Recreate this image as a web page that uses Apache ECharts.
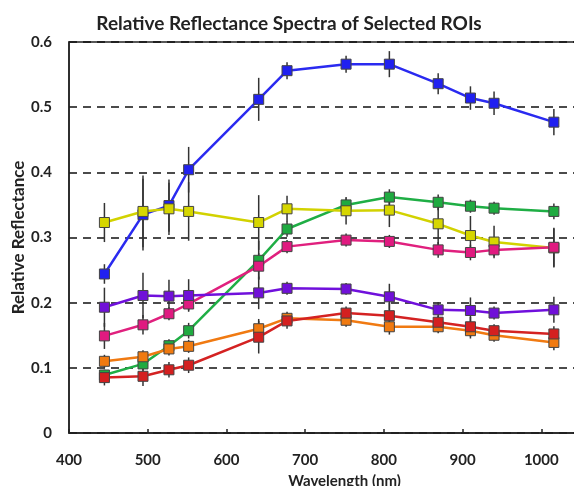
<!DOCTYPE html>
<html lang="en">
<head>
  <meta charset="UTF-8">
  <title>Relative Reflectance Spectra</title>
  <script src="https://cdn.jsdelivr.net/npm/echarts@6/dist/echarts.min.js"></script>
  <style>
    html, body { margin: 0; padding: 0; background: #fff; }
    #chart { width: 574px; height: 486px; }
  </style>
</head>
<body>
  <div id="chart"></div>
  <script>
    // wavelengths (nm) shared by every ROI
    var wavelengths = [445, 494, 527, 552, 641, 677, 752, 807, 869, 910, 940, 1016]

    var blue = [0.244, 0.335, 0.349, 0.404, 0.512, 0.556, 0.566, 0.566, 0.536, 0.514, 0.506, 0.477]
    var blueErr = [0.015, 0.055, 0.04, 0.035, 0.033, 0.013, 0.013, 0.02, 0.016, 0.018, 0.018, 0.02]
    var yellow = [0.323, 0.340, 0.344, 0.340, 0.323, 0.344, 0.341, 0.342, 0.321, 0.303, 0.293, 0.284]
    var yellowErr = [0.03, 0.055, 0.04, 0.045, 0.042, 0.02, 0.021, 0.026, 0.04, 0.03, 0.025, 0.03]
    var green = [0.089, 0.106, 0.134, 0.157, 0.265, 0.313, 0.350, 0.362, 0.354, 0.348, 0.345, 0.340]
    var greenErr = [0.008, 0.01, 0.01, 0.012, 0.03, 0.012, 0.01, 0.012, 0.012, 0.01, 0.01, 0.012]
    var pink = [0.149, 0.166, 0.183, 0.198, 0.256, 0.286, 0.296, 0.294, 0.281, 0.277, 0.281, 0.285]
    var pinkErr = [0.02, 0.015, 0.01, 0.01, 0.02, 0.01, 0.01, 0.01, 0.012, 0.012, 0.01, 0.03]
    var purple = [0.193, 0.211, 0.210, 0.211, 0.215, 0.222, 0.221, 0.209, 0.189, 0.188, 0.184, 0.189]
    var purpleErr = [0.03, 0.035, 0.025, 0.025, 0.025, 0.01, 0.009, 0.02, 0.012, 0.02, 0.01, 0.02]
    var orange = [0.110, 0.117, 0.129, 0.133, 0.160, 0.176, 0.173, 0.163, 0.163, 0.157, 0.150, 0.139]
    var orangeErr = [0.01, 0.01, 0.01, 0.01, 0.015, 0.01, 0.01, 0.012, 0.01, 0.012, 0.01, 0.012]
    var red = [0.085, 0.087, 0.097, 0.104, 0.147, 0.172, 0.184, 0.180, 0.170, 0.163, 0.157, 0.152]
    var redErr = [0.012, 0.015, 0.012, 0.012, 0.025, 0.012, 0.01, 0.02, 0.01, 0.015, 0.01, 0.012]

    // drawn bottom to top
    var rois = [
      { values: blue, err: blueErr, line: '#2a2af0', fill: '#2020f0' },
      { values: green, err: greenErr, line: '#1fae45', fill: '#1faa40' },
      { values: yellow, err: yellowErr, line: '#d2d200', fill: '#d6d600' },
      { values: pink, err: pinkErr, line: '#e0207e', fill: '#e01a80' },
      { values: purple, err: purpleErr, line: '#7010dc', fill: '#7010d8' },
      { values: orange, err: orangeErr, line: '#f07a12', fill: '#f07a10' },
      { values: red, err: redErr, line: '#d42222', fill: '#d42020' }
    ]

    var font = 'Lato, "Open Sans", sans-serif'
    var series = []

    // error bars first, so they sit under lines and markers
    rois.forEach(function (roi) {
      var bars = []
      for (var i = 0; i < wavelengths.length; i++) {
        bars.push([wavelengths[i], roi.values[i] - roi.err[i], roi.values[i] + roi.err[i]])
      }
      series.push({
        type: 'custom',
        z: 1,
        silent: true,
        data: bars,
        renderItem: function (params, api) {
          var lo = api.coord([api.value(0), api.value(1)])
          var hi = api.coord([api.value(0), api.value(2)])
          return {
            type: 'line',
            shape: { x1: lo[0], y1: lo[1], x2: hi[0], y2: hi[1] },
            style: { stroke: '#333', lineWidth: 1.5 }
          }
        }
      })
    })

    rois.forEach(function (roi, k) {
      var pts = []
      for (var i = 0; i < wavelengths.length; i++) {
        pts.push([wavelengths[i], roi.values[i]])
      }
      series.push({
        type: 'line',
        z: 2 + k,
        data: pts,
        symbol: 'rect',
        symbolSize: 10,
        showAllSymbol: true,
        lineStyle: { color: roi.line, width: 2.5 },
        itemStyle: { color: roi.fill, borderColor: '#444', borderWidth: 1 },
        emphasis: { disabled: true }
      })
    })

    var chart = echarts.init(document.getElementById('chart'))
    chart.setOption({
      animation: false,
      title: {
        text: 'Relative Reflectance Spectra of Selected ROIs',
        left: 284,
        textAlign: 'center',
        top: 9,
        textStyle: { fontFamily: font, fontSize: 19, fontWeight: 'bold', color: '#222' }
      },
      grid: {
        left: 69, top: 42, bottom: 53, width: 551,
        outerBoundsMode: 'none',
        containLabel: false,
        show: true, borderColor: '#222', borderWidth: 1.5
      },
      xAxis: {
        type: 'value',
        min: 400, max: 1100, interval: 100,
        name: 'Wavelength (nm)',
        nameLocation: 'middle',
        nameGap: 41,
        nameMoveOverlap: false,
        nameTextStyle: { fontFamily: font, fontSize: 15, fontWeight: 'bold', color: '#222' },
        axisLine: { lineStyle: { color: '#222', width: 1.5 } },
        axisTick: { inside: true, length: 4, lineStyle: { color: '#222', width: 1.5 } },
        axisLabel: {
          fontFamily: font, fontSize: 15, fontWeight: 'bold', color: '#222', margin: 20,
          formatter: function (v) { return String(v) }
        },
        splitLine: { show: false }
      },
      yAxis: {
        type: 'value',
        min: 0, max: 0.6, interval: 0.1,
        name: 'Relative Reflectance',
        nameLocation: 'middle',
        nameGap: 42,
        nameMoveOverlap: false,
        nameTextStyle: { fontFamily: font, fontSize: 17, fontWeight: 'bold', color: '#222' },
        axisLine: { show: true, lineStyle: { color: '#222', width: 1.5 } },
        axisTick: { show: false },
        axisLabel: {
          fontFamily: font, fontSize: 15, fontWeight: 'bold', color: '#222', margin: 17,
          formatter: function (v) { return v === 0 ? '0' : v.toFixed(1) }
        },
        splitLine: { lineStyle: { color: '#111', width: 1.5, type: [8, 6] } }
      },
      series: series
    })
  </script>
</body>
</html>
